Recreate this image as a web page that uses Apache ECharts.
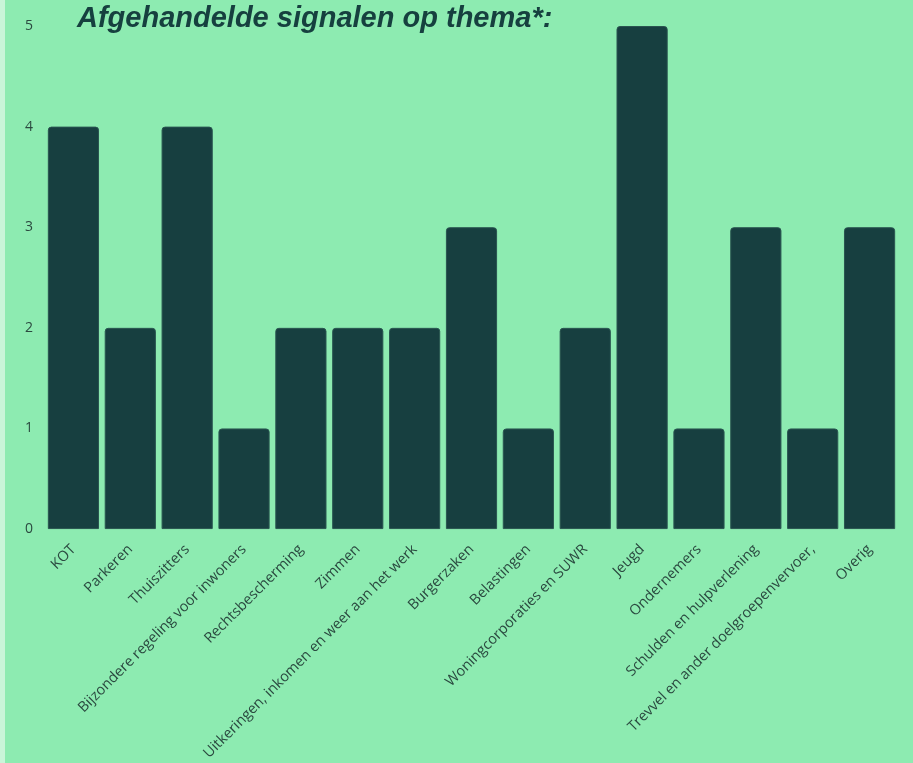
<!DOCTYPE html>
<html><head><meta charset="utf-8">
<script src="https://cdn.jsdelivr.net/npm/echarts@6/dist/echarts.min.js"></script>
<style>
html,body{margin:0;padding:0;background:#8debb1;}
#strip{position:absolute;left:0;top:0;width:5px;height:763px;background:#c9f5d9;}
#c{position:absolute;left:0;top:0;width:913px;height:763px;}
</style></head>
<body><div id="c"></div><div id="strip"></div>
<script>
const title = 'Afgehandelde signalen op thema*:';
const categories = ['KOT','Parkeren','Thuiszitters','Bijzondere regeling voor inwoners','Rechtsbescherming','Zimmen','Uitkeringen, inkomen en weer aan het werk','Burgerzaken','Belastingen','Woningcorporaties en SUWR','Jeugd','Ondernemers','Schulden en hulpverlening','Trevvel en ander doelgroepenvervoer,','Overig'];
const values = [4,2,4,1,2,2,2,3,1,2,5,1,3,1,3];
const yTicks = [0,1,2,3,4,5];

const chart = echarts.init(document.getElementById('c'));
chart.setOption({
  backgroundColor: '#8debb1',
  animation: false,
  title: {
    text: title, left: 72, top: -1,
    textStyle: {fontFamily: 'Liberation Sans', fontStyle: 'italic', fontWeight: 'bold', fontSize: 29, color: '#16403f'}
  },
  grid: {left: 45, right: 15, top: 26, bottom: 228, containLabel: false},
  xAxis: {
    type: 'category', data: categories,
    axisLine: {show: false}, axisTick: {show: false},
    axisLabel: {rotate: 45, interval: 0, margin: 18, fontFamily: 'Open Sans', fontSize: 14.5, color: '#2b4a40'}
  },
  yAxis: {
    type: 'value', min: yTicks[0], max: yTicks[yTicks.length-1], interval: 1,
    splitLine: {show: false}, axisLine: {show: false}, axisTick: {show: false},
    axisLabel: {margin: 12, fontFamily: 'Open Sans', fontSize: 14, color: '#2b4a40'}
  },
  series: [{
    type: 'bar', data: values, barCategoryGap: '10%',
    itemStyle: {color: '#173f40', borderColor: '#2a5550', borderWidth: 1, borderRadius: [3,3,0,0]}
  }]
});
</script></body></html>
